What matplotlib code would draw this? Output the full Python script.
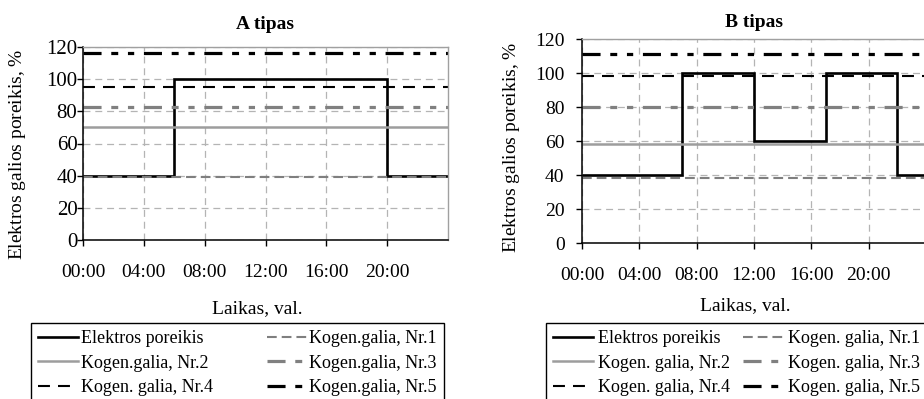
"""Elektros galios poreikis ir kogeneracijos galia: A ir B tipai -> out.png."""

import matplotlib

matplotlib.use("Agg")
import matplotlib.pyplot as plt  # noqa: E402

plt.rcParams["font.family"] = ["Liberation Serif", "DejaVu Serif"]
plt.rcParams["mathtext.fontset"] = "custom"
plt.rcParams["mathtext.rm"] = "Liberation Serif"
plt.rcParams["mathtext.it"] = "Liberation Serif:italic"
plt.rcParams["lines.scale_dashes"] = False

# duomenys
hours = [0, 4, 8, 12, 16, 20]
hour_labels = ["00:00", "04:00", "08:00", "12:00", "16:00", "20:00"]
y_ticks = [0, 20, 40, 60, 80, 100, 120]

a_edges = [0, 6, 20, 24]
a_demand = [40, 100, 40]
a_kogen = [39, 70, 83, 95, 116]  # Nr.1 .. Nr.5

b_edges = [0, 7, 12, 17, 22, 24]
b_demand = [40, 100, 60, 100, 40]
b_kogen = [38, 58, 80, 98, 111]

a_labels = ["Elektros poreikis", "Kogen.galia, Nr.1", "Kogen.galia, Nr.2",
            "Kogen.galia, Nr.3", "Kogen. galia, Nr.4", "Kogen.galia, Nr.5"]
b_labels = ["Elektros poreikis", "Kogen. galia, Nr.1", "Kogen. galia, Nr.2",
            "Kogen. galia, Nr.3", "Kogen. galia, Nr.4", "Kogen. galia, Nr.5"]

# stiliai (Nr.1 .. Nr.5)
LDD = (0, (13, 7, 5, 7, 4.5, 7))
kogen_styles = [
    dict(color="#7f7f7f", lw=1.5, ls=(0, (7, 3.6))),
    dict(color="#9d9d9d", lw=1.8, ls="-"),
    dict(color="#808080", lw=2.3, ls=LDD),
    dict(color="black", lw=1.5, ls=(0, (8.6, 5.8))),
    dict(color="black", lw=2.3, ls=LDD),
]

W, H = 924, 399
fig = plt.figure(figsize=(W / 100, H / 100), dpi=100)


def panel(rect, edges, demand, kogen, labels, title, tpad, ypad, ysize,
          ylab_xy, xlab_xy, leg_xy, colspace, textpad):
    ax = fig.add_axes(rect)
    dem = ax.stairs(demand, edges, baseline=None, color="black", lw=1.9)
    lines = [ax.axhline(v, **st) for v, st in zip(kogen, kogen_styles)]

    ax.set_xlim(0, 24)
    ax.set_ylim(0, 120)
    ax.set_xticks(hours, labels=hour_labels)
    ax.set_yticks(y_ticks)
    ax.grid(True, color="#b4b4b4", lw=0.9, ls=(0, (5, 3.5)))
    ax.set_axisbelow(True)
    for side in ("left", "bottom"):
        ax.spines[side].set_color("black")
        ax.spines[side].set_linewidth(1.1)
    for side in ("top", "right"):
        ax.spines[side].set_color("#a0a0a0")
        ax.spines[side].set_linewidth(1.0)
    ax.tick_params(axis="x", direction="out", length=4, width=1,
                   pad=13, labelsize=14)
    ax.tick_params(axis="y", direction="out", length=4, width=1,
                   pad=ypad, labelsize=ysize)

    ax.set_title(title, fontsize=14, fontweight="bold", pad=tpad)
    ax.set_ylabel(r"Elektros galios poreikis, $\mathit{\%}$", fontsize=14)
    ax.yaxis.set_label_coords(*ylab_xy)
    ax.set_xlabel("Laikas, val.", fontsize=14)
    ax.xaxis.set_label_coords(*xlab_xy)

    handles = [dem] + lines
    order = [0, 2, 4, 1, 3, 5]
    leg = fig.legend([handles[i] for i in order], [labels[i] for i in order],
                     ncol=2, loc="upper left", bbox_to_anchor=leg_xy,
                     bbox_transform=fig.transFigure, fontsize=13,
                     frameon=True, fancybox=False, framealpha=1,
                     edgecolor="black", handlelength=2.2,
                     handletextpad=textpad, columnspacing=colspace,
                     labelspacing=0.42, borderpad=0.4, borderaxespad=0)
    leg.get_frame().set_linewidth(1.0)
    return ax


panel([83 / W, 1 - 240 / H, 365 / W, 193 / H], a_edges, a_demand, a_kogen,
      a_labels, "A tipas", 13, 0, 15, (-0.15, 0.443), (0.477, -0.311),
      (31 / W, 1 - 323 / H), 3.0, 0.15)
panel([582 / W, 1 - 243 / H, 344 / W, 204 / H], b_edges, b_demand, b_kogen,
      b_labels, "B tipas", 8.6, 8.6, 14, (-0.174, 0.47), (0.474, -0.265),
      (546 / W, 1 - 323 / H), 0.7, 0.3)

fig.savefig("out.png", dpi=100)
